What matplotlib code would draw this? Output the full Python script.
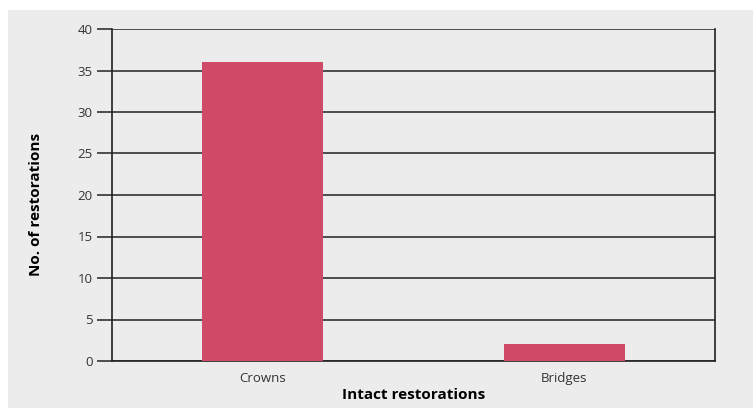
import matplotlib.pyplot as plt
from matplotlib.patches import Rectangle

categories = ['Crowns', 'Bridges']
counts = [36, 2]
y_ticks = [0, 5, 10, 15, 20, 25, 30, 35, 40]

plt.rcParams['font.family'] = ['Open Sans', 'DejaVu Sans']

bg = '#ebeceb'
bar_color = '#cf4a66'

fig = plt.figure(figsize=(7.53, 4.08), dpi=100)
fig.patches.append(Rectangle((8 / 753, 0), 1, 1 - 10 / 408, transform=fig.transFigure,
                             facecolor=bg, edgecolor='none', zorder=-10))

ax = fig.add_axes([112 / 753, 1 - 361 / 408, 603 / 753, 332 / 408])
ax.set_facecolor(bg)

ax.bar(range(len(categories)), counts, width=0.4, color=bar_color, zorder=3)

ax.set_xlim(-0.5, 1.5)
ax.set_ylim(0, 40)
ax.set_yticks(y_ticks)
ax.set_xticks(range(len(categories)))
ax.set_xticklabels(categories)
ax.yaxis.grid(True, color='#333333', linewidth=1.2, zorder=1)
ax.set_axisbelow(True)

ax.tick_params(axis='y', length=11, width=1.2, color='#333333', labelsize=9.5,
               labelcolor='#333333', pad=3)
ax.tick_params(axis='x', length=0, labelsize=9.5, labelcolor='#333333', pad=8)

for side in ['left', 'right', 'bottom']:
    ax.spines[side].set_color('#222222')
    ax.spines[side].set_linewidth(1.2)
ax.spines['top'].set_visible(False)

ax.set_xlabel('Intact restorations', fontsize=11, fontweight='bold', labelpad=2)
ax.set_ylabel('No. of restorations', fontsize=11, fontweight='bold')
ax.yaxis.set_label_coords(-0.114, 0.473)

fig.savefig('out.png', dpi=100)
